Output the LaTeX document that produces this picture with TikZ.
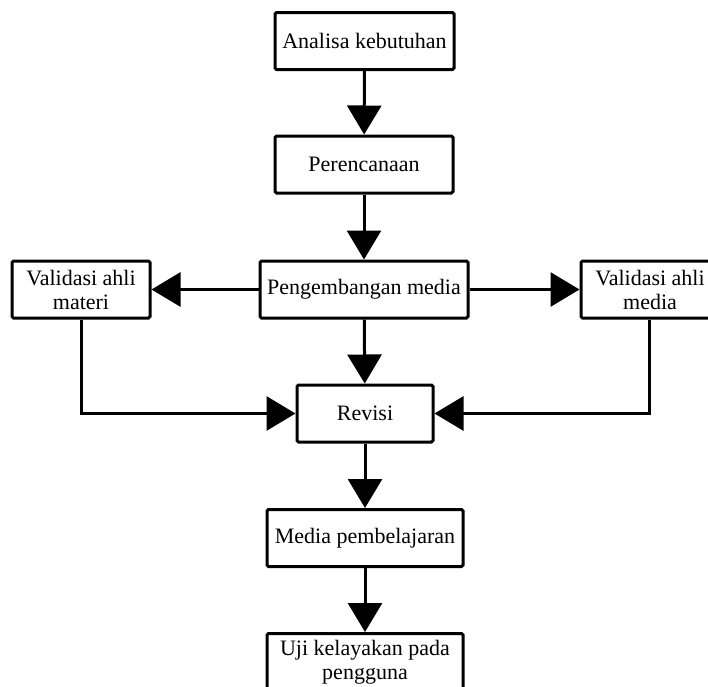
\documentclass[tikz,border=0pt]{standalone}
\usepackage{fontspec}
\setmainfont{Liberation Serif}
\usetikzlibrary{arrows.meta}
\tikzset{
  kotak/.style={draw, line width=3pt, rounded corners=1.5pt, inner sep=0pt,
    minimum height=57pt, align=center, font=\fontsize{22}{24}\selectfont},
  panah/.style={line width=3pt, -{Triangle[length=29pt,width=34pt]}}
}
\begin{document}
\begin{tikzpicture}[x=1pt,y=-1pt]
                        \useasboundingbox (0,0) rectangle (708,686);
                        \clip (0,0) rectangle (708,686);
                        \node[kotak, minimum width=179pt] (analisa) at (364.5,41) {Analisa kebutuhan};
                        \node[kotak, minimum width=178pt] (rencana) at (364,164.5) {Perencanaan};
                        \node[kotak, minimum width=208pt] (kembang) at (364,289.5) {Pengembangan media};
                        \node[kotak, minimum width=138pt] (materi) at (81,289.5) {Validasi ahli\\materi};
                        \node[kotak, minimum width=138pt] (vmedia) at (650,289.5) {Validasi ahli\\media};
                        \node[kotak, minimum width=136pt] (revisi) at (365,413.5) {Revisi};
                        \node[kotak, minimum width=196pt] (mediap) at (365,538) {Media pembelajaran};
                        \node[kotak, minimum width=196pt] (uji) at (365,662) {Uji kelayakan pada\\pengguna};
                        \draw[panah] (analisa) -- (rencana);
                        \draw[panah] (rencana) -- (kembang);
                        \draw[panah] (kembang) -- (materi);
                        \draw[panah] (kembang) -- (vmedia);
                        \draw[panah] (kembang) -- (revisi);
                        \draw[panah] (materi.south) |- (revisi.west);
                        \draw[panah] (vmedia.south -| 649,0) |- (revisi.east);
                        \draw[panah] (revisi) -- (mediap);
                        \draw[panah] (mediap) -- (uji);
                    \end{tikzpicture}
\end{document}
